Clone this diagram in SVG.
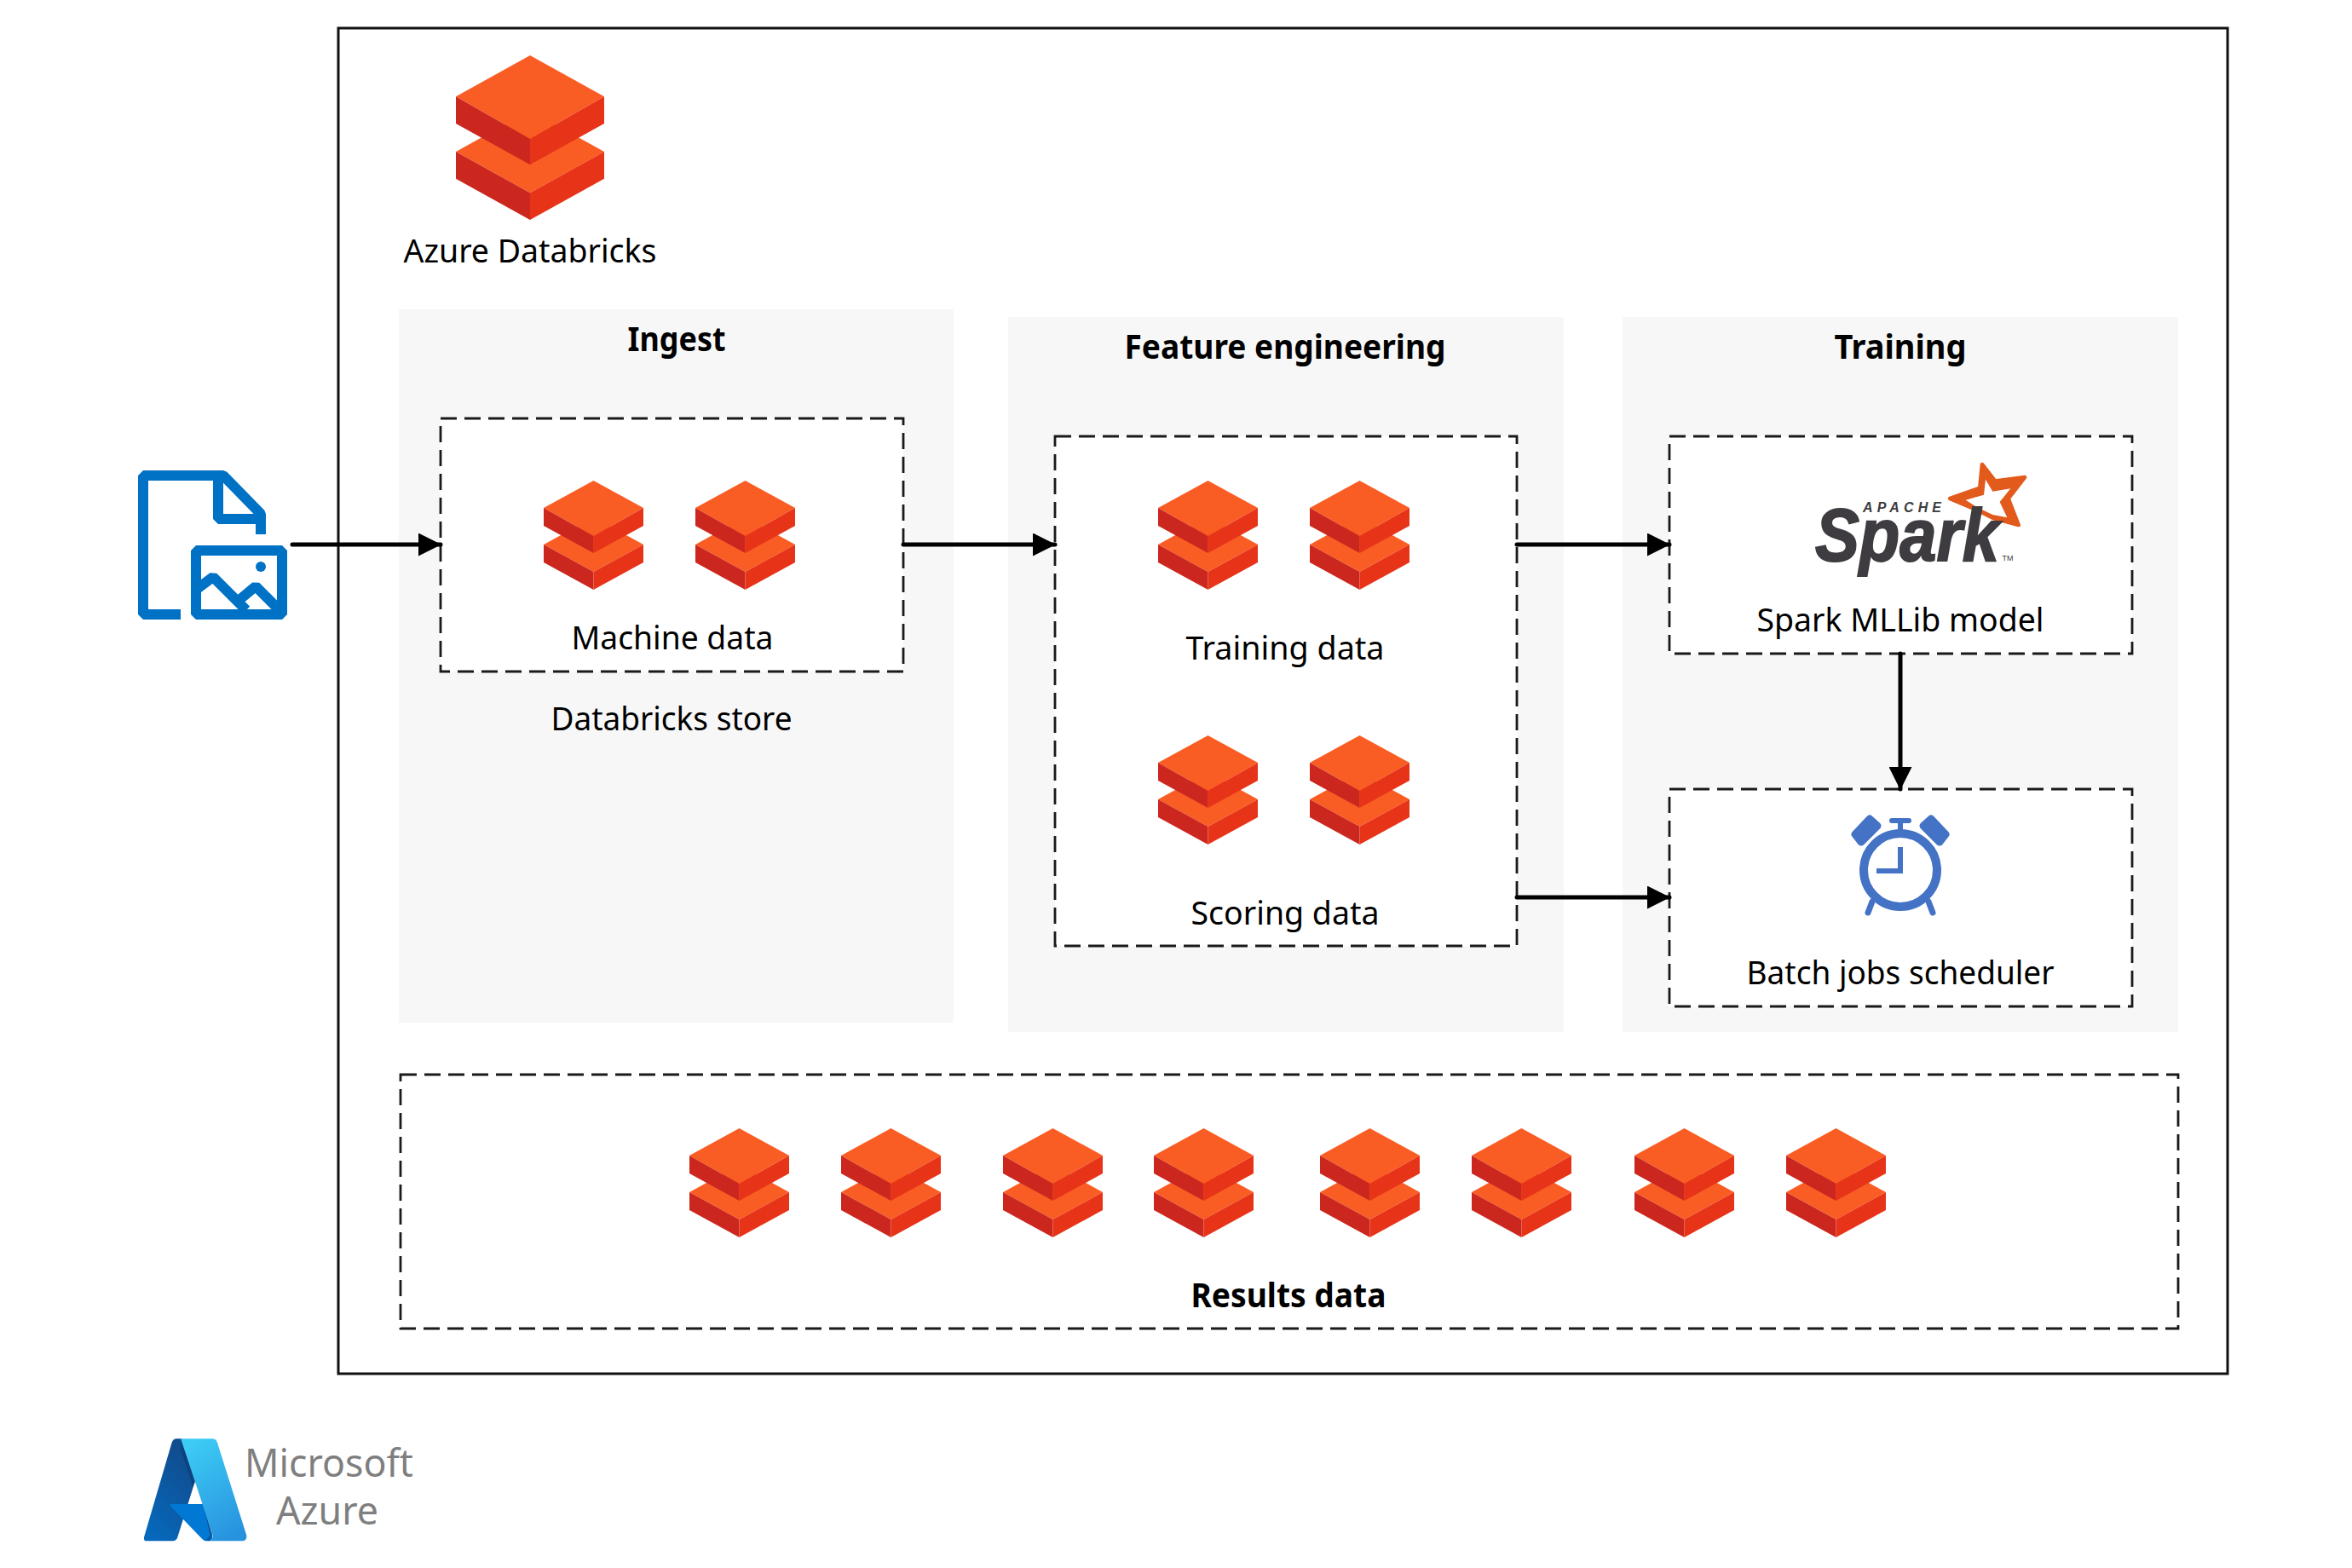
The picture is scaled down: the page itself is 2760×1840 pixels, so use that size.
<svg xmlns="http://www.w3.org/2000/svg" width="2760" height="1840" viewBox="0 0 2760 1840">
<style>
text{font-family:"Noto Sans","Open Sans","Liberation Sans",sans-serif;font-size:39px;fill:#000;text-anchor:middle}
.b{font-weight:700}
.panel{fill:#f7f7f7}
.dash{fill:#fff;stroke:#1a1a1a;stroke-width:2.8;stroke-dasharray:19 9}
.conn{fill:none;stroke:#000;stroke-width:5;stroke-linecap:round;marker-end:url(#arr)}
.fi{fill:none;stroke:#0072c6;stroke-width:12;stroke-linejoin:bevel}
.cl{fill:#4472c4}
.cs{fill:none;stroke:#4472c4}
</style>
<defs>
<marker id="arr" markerUnits="userSpaceOnUse" markerWidth="27" markerHeight="27" refX="26" refY="13.5" orient="auto"><path d="M0,0L27,13.5L0,27Z" fill="#000"/></marker>
<symbol id="db" viewBox="0 0 116 128" preserveAspectRatio="none">
<path d="M58,43L116,75L58,107L0,75Z" fill="#f95d24"/>
<path d="M0,75L58,107V128L0,96Z" fill="#cb271f"/>
<path d="M116,75L58,107V128L116,96Z" fill="#e73419"/>
<path d="M58,0L116,32L58,65L0,32Z" fill="#f95d24"/>
<path d="M0,32L58,65V85L0,53Z" fill="#cb271f"/>
<path d="M116,32L58,65V85L116,53Z" fill="#e73419"/>
</symbol>
<linearGradient id="azl" x1="0.7" y1="0" x2="0.2" y2="1"><stop offset="0" stop-color="#114a8b"/><stop offset="1" stop-color="#0669bc"/></linearGradient>
<linearGradient id="azr" x1="0.3" y1="0" x2="0.7" y2="1"><stop offset="0" stop-color="#3ccbf4"/><stop offset="1" stop-color="#2892df"/></linearGradient>
</defs>

<rect id="frame" x="397" y="33" width="2217" height="1579" fill="#fff" stroke="#111" stroke-width="3"/>

<g id="panels">
<rect class="panel" x="468" y="363" width="651" height="837"/>
<rect class="panel" x="1183" y="372" width="652" height="839"/>
<rect class="panel" x="1904" y="372" width="652" height="839"/>
</g>

<g id="azure-databricks">
<use href="#db" x="535" y="65" width="174" height="193"/>
<text x="622" y="308" textLength="297" lengthAdjust="spacingAndGlyphs">Azure Databricks</text>
</g>

<g id="ingest">
<text class="b" x="794" y="412" textLength="115" lengthAdjust="spacingAndGlyphs">Ingest</text>
<text x="788" y="857" textLength="283" lengthAdjust="spacingAndGlyphs">Databricks store</text>
</g>
<g id="machine-data">
<rect class="dash" x="517" y="491" width="543" height="297"/>
<use href="#db" x="638" y="564" width="117" height="128"/>
<use href="#db" x="816" y="564" width="117" height="128"/>
<text x="789" y="762" textLength="237" lengthAdjust="spacingAndGlyphs">Machine data</text>
</g>

<g id="feature-engineering">
<text class="b" x="1508" y="421" textLength="377" lengthAdjust="spacingAndGlyphs">Feature engineering</text>
</g>
<g id="feature-data">
<rect class="dash" x="1238" y="512" width="542" height="598"/>
<use href="#db" x="1359" y="564" width="117" height="128"/>
<use href="#db" x="1537" y="564" width="117" height="128"/>
<text x="1508" y="774" textLength="233" lengthAdjust="spacingAndGlyphs">Training data</text>
<use href="#db" x="1359" y="863" width="117" height="128"/>
<use href="#db" x="1537" y="863" width="117" height="128"/>
<text x="1508" y="1085" textLength="221" lengthAdjust="spacingAndGlyphs">Scoring data</text>
</g>

<g id="training">
<text class="b" x="2230" y="421" textLength="155" lengthAdjust="spacingAndGlyphs">Training</text>
</g>
<g id="spark-model">
<rect class="dash" x="1959" y="512" width="543" height="255"/>
<g transform="translate(2120,530) scale(0.3333)">
<path d="M618,45L664,104L768,90L710,165L746,258L660,235L600,205L505,165L610,128Z" fill="#e25a1c" stroke="#e25a1c" stroke-width="14" stroke-linejoin="round"/>
<path d="M630,98L655,140L718,130L680,177L706,232L655,222L600,196L560,170L624,152Z" fill="#fff"/>
</g>
<text x="2238" y="658" textLength="216" lengthAdjust="spacingAndGlyphs" style="font-family:'Liberation Sans',sans-serif;font-weight:700;font-style:italic;font-size:87px;fill:#3e3c40;stroke:#3e3c40;stroke-width:2">Spark</text>
<text x="2232" y="601" textLength="92" style="font-family:'Liberation Sans',sans-serif;font-weight:700;font-style:italic;font-size:16px;fill:#3e3c40">APACHE</text>
<text x="2356" y="658" style="font-family:'Liberation Sans',sans-serif;font-size:9px;fill:#3e3c40">TM</text>
<text x="2230" y="741" textLength="337" lengthAdjust="spacingAndGlyphs">Spark MLLib model</text>
</g>
<g id="batch-scheduler">
<rect class="dash" x="1959" y="926" width="543" height="255"/>
<circle class="cs" cx="2230" cy="1021" r="43" stroke-width="10"/>
<rect class="cl" x="2217" y="960" width="26" height="6" rx="3"/>
<rect class="cl" x="2227" y="964" width="6" height="12"/>
<path class="cl" d="M2194,961L2203,969L2184,988L2177,979Z" stroke="#4472c4" stroke-width="9" stroke-linejoin="round"/>
<path class="cl" d="M2266,961L2257,969L2276,988L2283,979Z" stroke="#4472c4" stroke-width="9" stroke-linejoin="round"/>
<path class="cl" d="M2227,994H2233V1025H2202V1019H2227Z"/>
<path class="cs" d="M2197,1058L2192,1071M2263,1058L2268,1071" stroke-width="7" stroke-linecap="round"/>
<text x="2230" y="1155" textLength="361" lengthAdjust="spacingAndGlyphs">Batch jobs scheduler</text>
</g>

<g id="results-data">
<rect class="dash" x="470" y="1261" width="2086" height="298"/>
<use href="#db" x="809" y="1324" width="117" height="128"/>
<use href="#db" x="987" y="1324" width="117" height="128"/>
<use href="#db" x="1177" y="1324" width="117" height="128"/>
<use href="#db" x="1354" y="1324" width="117" height="128"/>
<use href="#db" x="1549" y="1324" width="117" height="128"/>
<use href="#db" x="1727" y="1324" width="117" height="128"/>
<use href="#db" x="1918" y="1324" width="117" height="128"/>
<use href="#db" x="2096" y="1324" width="117" height="128"/>
<text class="b" x="1512" y="1534" textLength="229" lengthAdjust="spacingAndGlyphs">Results data</text>
</g>

<g id="file-source">
<path class="fi" d="M212,721H168V558H262L306,603V627"/>
<path class="fi" d="M256,558V609H306"/>
<rect class="fi" x="230" y="646" width="101" height="75"/>
<circle cx="306" cy="665" r="6" fill="#0072c6"/>
<path class="fi" d="M230,692L250,677L289,716M282,703L300,688L326,714" stroke-linejoin="miter"/>
</g>

<g id="connectors">
<path class="conn" d="M343,639H517"/>
<path class="conn" d="M1060,639H1238"/>
<path class="conn" d="M1780,639H1959"/>
<path class="conn" d="M1780,1053H1959"/>
<path class="conn" d="M2230,767V926"/>
</g>

<g id="microsoft-azure">
<g transform="translate(100,1650) scale(.3333)">
<path d="M322,115H345Q338,116 340,122L388,260L325,462Q320,475 308,475H218Q203,475 208,458L305,128Q310,115 322,115Z" fill="url(#azl)"/>
<path d="M300,345H415L448,460Q448,475 435,475H425Q418,475 412,468L303,355Q296,347 300,345Z" fill="#0078d4"/>
<path d="M415,342L448,452L436,475L425,472L440,455Z" fill="#0b3a72" opacity=".6"/>
<path d="M336,116L388,262L380,285L336,150Z" fill="#0b3a72" opacity=".6"/>
<path d="M335,115H448Q460,115 465,128L568,455Q570,475 552,475H435Q452,470 448,452L340,125Q338,117 335,115Z" fill="url(#azr)"/>
</g>
<text x="386" y="1733" textLength="198" lengthAdjust="spacingAndGlyphs" style="font-size:45px;fill:#7f7f7f">Microsoft</text>
<text x="384" y="1789" textLength="120" lengthAdjust="spacingAndGlyphs" style="font-size:45px;fill:#7f7f7f">Azure</text>
</g>
</svg>
